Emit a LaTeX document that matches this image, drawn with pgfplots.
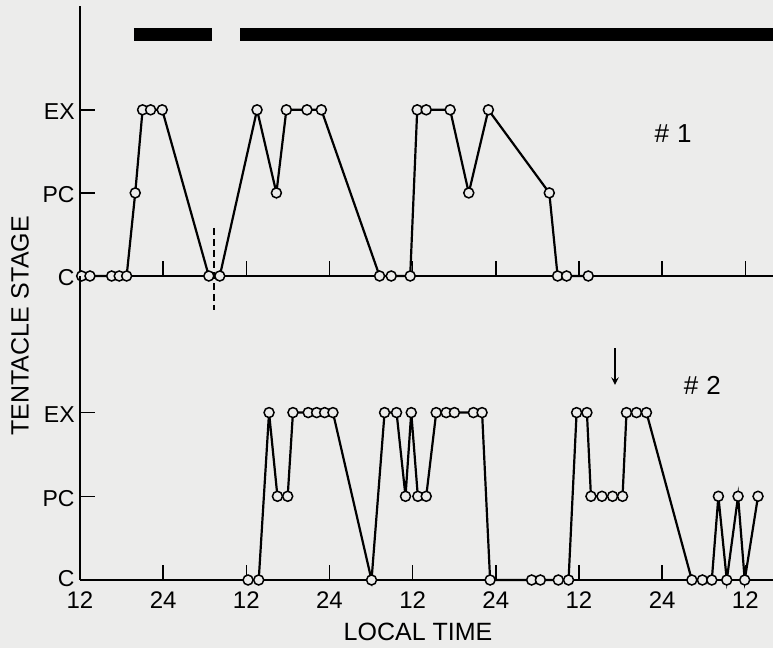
\documentclass[border=0pt]{standalone}
\usepackage{fontspec}
\setmainfont{Liberation Sans}
\usepackage{pgfplots}
\pgfplotsset{compat=1.18}
\definecolor{bg}{RGB}{236,236,235}
\begin{document}
\begin{tikzpicture}
\fill[bg] (0,0) rectangle (386.5pt,324pt);
\useasboundingbox (0,0) rectangle (386.5pt,324pt);
\pgfplotsset{
  panel/.style={
    scale only axis, clip=false,
    width=346.5pt, xmin=12, xmax=112,
    axis lines*=left,
    axis line style={line width=0.75pt},
    tick align=inside, major tick length=7.5pt,
    tick style={line width=0.75pt, black},
    xtick={12,24,36,48,60,72,84,96,108},
    ytick={0,1,2},
    yticklabel style={font=\fontsize{11.5}{12}\selectfont, inner sep=1pt, xshift=-1.5pt, yshift=-1pt},
    xticklabel style={font=\fontsize{12}{13}\selectfont, inner sep=1pt, yshift=-4.5pt},
  },
}
% ---------- Top panel (#1)
\begin{axis}[panel, at={(40pt,186pt)}, anchor=south west,
  height=135pt, ymin=0, ymax=3.25, xticklabels={}, yticklabels={C,PC,EX}]
\addplot[black, line width=6.5pt, line cap=butt] coordinates {(19.79,2.91) (31.05,2.91)};
\addplot[black, line width=6.5pt, line cap=butt] coordinates {(35.09,2.91) (112,2.91)};
\addplot[black, line width=0.9pt, dash pattern=on 3.5pt off 2pt] coordinates {(31.35,0.58) (31.35,-0.41)};
\addplot[black, line width=1.1pt, mark=*, mark size=2.5pt,
  mark options={fill=bg, draw=black, line width=0.75pt}] coordinates {
(12.24,0) (13.44,0) (16.57,0) (17.66,0) (18.73,0) (19.97,1) (21.03,2) (22.19,2)
(23.86,2) (30.59,0) (32.17,0) (37.55,2) (40.34,1) (41.78,2) (44.75,2) (46.83,2)
(55.23,0) (56.91,0) (59.65,0) (60.66,2) (61.96,2) (65.41,2) (68.10,1) (70.93,2)
(79.72,1) (80.92,0) (82.22,0) (85.34,0)};
\node[font=\fontsize{13}{14}\selectfont] at (axis cs:97.6,1.72) {\#\hspace{4pt}1};
\end{axis}
% ---------- Bottom panel (#2)
\begin{axis}[panel, at={(40pt,34pt)}, anchor=south west,
  height=152pt, ymin=0, ymax=3.632,
  yticklabels={\raisebox{4pt}{C},PC,EX},
  xticklabels={12,24,12,24,12,24,12,24,12}]
\addplot[black, line width=1.1pt, mark=*, mark size=2.5pt,
  mark options={fill=bg, draw=black, line width=0.75pt}] coordinates {
(36.25,0) (37.79,0) (39.28,2) (40.49,1) (41.97,1) (42.73,2) (44.93,2) (46.15,2)
(47.30,2) (48.50,2) (54.07,0) (55.95,2) (57.68,2) (58.97,1) (59.80,2) (60.75,1)
(61.96,1) (63.40,2) (64.84,2) (66.03,2) (68.77,2) (70.02,2) (71.18,0) (77.17,0)
(78.43,0) (81.02,0) (82.50,0) (83.66,2) (85.15,2) (85.73,1) (87.32,1) (88.85,1)
(90.29,1) (90.86,2) (92.30,2) (93.74,2) (100.29,0) (101.81,0) (103.17,0) (104.12,1)
(105.33,0) (106.96,1) (107.92,0) (109.84,1)};
\draw[->, line width=0.7pt, >=stealth] (axis cs:89.2,2.77) -- (axis cs:89.2,2.33);
\node[font=\fontsize{13}{14}\selectfont] at (axis cs:101.8,2.33) {\#\hspace{4pt}2};
\end{axis}
\node[rotate=90, font=\fontsize{12.5}{13}\selectfont] at (10pt,161pt) {TENTACLE\hspace{4pt}STAGE};
\node[font=\fontsize{12.5}{13}\selectfont] at (209pt,8pt) {LOCAL TIME};
\end{tikzpicture}
\end{document}
